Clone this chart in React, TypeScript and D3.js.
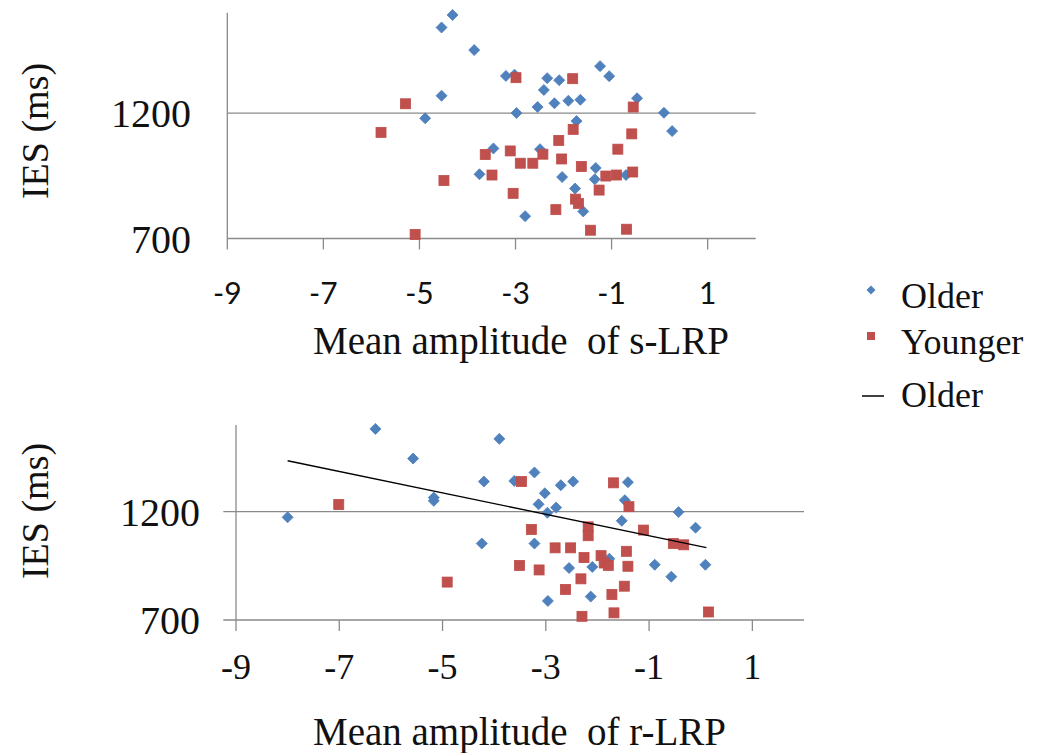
import React from "react";
import * as d3 from "d3";

// ---------- data ----------
const xTicks = [-9, -7, -5, -3, -1, 1];
const yTicks = [700, 1200];
const xDomain = [-9, 2];
const yDomain = [700, 1600];

const sOlder: [number, number][] = [
  [-4.31, 1591], [-4.54, 1541], [-3.86, 1451], [-3.2, 1348], [-3.02, 1353], [-2.34, 1339],
  [-2.09, 1331], [-2.41, 1292], [-1.24, 1387], [-1.05, 1347], [-4.54, 1269], [-2.54, 1224],
  [-2.19, 1239], [-1.9, 1249], [-1.65, 1253], [-0.47, 1259], [-2.98, 1200], [0.09, 1201],
  [-4.88, 1179], [-1.73, 1168], [0.26, 1128], [-3.46, 1059], [-2.49, 1056], [-3.75, 956],
  [-2.03, 945], [-1.33, 981], [-1.35, 936], [-0.7, 953], [-1.76, 899], [-1.59, 808], [-2.8, 789],
];
const sYounger: [number, number][] = [
  [-2.99, 1341], [-1.81, 1337], [-5.29, 1237], [-0.55, 1224], [-5.8, 1123], [-1.8, 1135],
  [-0.58, 1117], [-2.1, 1091], [-0.87, 1056], [-3.63, 1035], [-3.11, 1049], [-2.43, 1036],
  [-2.04, 1017], [-2.9, 1000], [-2.64, 1000], [-1.63, 987], [-3.49, 953], [-1.12, 949],
  [-0.9, 953], [-0.56, 965], [-4.49, 931], [-1.26, 893], [-3.05, 880], [-1.75, 857],
  [-1.69, 840], [-2.16, 815], [-1.44, 733], [-0.69, 737], [-5.09, 716],
];
const rOlder: [number, number][] = [
  [-6.3, 1582], [-3.9, 1536], [-5.57, 1445], [-3.22, 1381], [-4.2, 1339], [-3.61, 1342],
  [-2.71, 1322], [-2.47, 1339], [-1.41, 1336], [-3.02, 1285], [-5.17, 1265], [-5.17, 1250],
  [-3.14, 1234], [-2.8, 1219], [-1.47, 1253], [-2.97, 1195], [-0.43, 1198], [-8.0, 1174],
  [-1.53, 1158], [-0.1, 1126], [-4.24, 1053], [-3.22, 1053], [-1.77, 983], [-2.55, 940],
  [-2.1, 945], [-0.89, 955], [0.09, 955], [-0.57, 900], [-2.13, 808], [-2.96, 788],
];
const rYounger: [number, number][] = [
  [-3.47, 1339], [-1.69, 1333], [-7.01, 1233], [-1.39, 1223], [-3.28, 1118], [-2.18, 1130],
  [-2.18, 1089], [-1.11, 1115], [-0.53, 1053], [-0.33, 1047], [-2.82, 1033], [-2.52, 1033],
  [-1.44, 1017], [-2.26, 988], [-1.93, 997], [-1.87, 963], [-1.79, 952], [-3.51, 952],
  [-3.13, 931], [-1.41, 948], [-4.91, 875], [-2.32, 890], [-2.62, 841], [-1.48, 856],
  [-1.72, 818], [-1.68, 733], [-2.3, 717], [0.15, 737],
];
// linear trendline of the Older group, r-LRP panel
const rOlderTrendX = [-8.0, 0.11];
const rOlderTrendY = [1435, 1034];

const legendLabels = ["Older", "Younger", "Older"];
const yTitle = "IES (ms)";
const sTitle = "Mean amplitude  of s-LRP";
const rTitle = "Mean amplitude  of r-LRP";

// ---------- styles ----------
const BLUE = "#4F81BD";
const BLUE_EDGE = "#4A7EBB";
const RED = "#C0504D";
const RED_EDGE = "#BE4B48";
const AXIS = "#8a8a8a";
const SERIF = "'Liberation Serif', 'Times New Roman', serif";
const SANS = "Lato, 'Open Sans', sans-serif";

const diamond = (cx: number, cy: number, r: number) =>
  `M${cx},${cy - r}L${cx + r},${cy}L${cx},${cy + r}L${cx - r},${cy}Z`;

type PanelProps = {
  x0: number; x1: number; yTop: number; yBottom: number;
  older: [number, number][]; younger: [number, number][];
  yTickLen: number; yLabelRight: number; xTickFont: string; xTickSize: number;
  xTickBaseline: number; title: string; titleBaseline: number; titleX: number;
  yTitleCenter: number; trendX?: number[]; trendY?: number[];
};

function Panel(p: PanelProps) {
  const x = d3.scaleLinear().domain(xDomain).range([p.x0, p.x1]);
  const y = d3.scaleLinear().domain(yDomain).range([p.yBottom, p.yTop]);
  const line = d3.line<number>().x((_, i) => x(p.trendX![i])).y((d) => y(d));
  return (
    <g>
      <line x1={x(-9)} x2={x(-9)} y1={y(1600)} y2={y(700)} stroke={AXIS} strokeWidth={1.3} />
      {yTicks.map((t) => (
        <line key={t} x1={x(-9) - p.yTickLen} x2={x(2)} y1={y(t)} y2={y(t)} stroke={AXIS} strokeWidth={1.3} />
      ))}
      {xTicks.map((t) => (
        <line key={t} x1={x(t)} x2={x(t)} y1={y(700)} y2={y(700) + 11} stroke={AXIS} strokeWidth={1.3} />
      ))}
      {yTicks.map((t) => (
        <text key={t} x={p.yLabelRight} y={y(t)} dy="0.35em" textAnchor="end"
          fontFamily={SERIF} fontSize={40} fill="#111">{t}</text>
      ))}
      {xTicks.map((t) => (
        <text key={t} x={x(t)} y={p.xTickBaseline} textAnchor="middle"
          fontFamily={p.xTickFont} fontSize={p.xTickSize} fill="#111">{t}</text>
      ))}
      <text x={p.titleX} y={p.titleBaseline} fontFamily={SERIF} fontSize={39} fill="#111"
        style={{ whiteSpace: "pre" }}>{p.title}</text>
      <text transform={`translate(35,${p.yTitleCenter}) rotate(-90)`} textAnchor="middle"
        dy="0.35em" fontFamily={SERIF} fontSize={38} fill="#111">{yTitle}</text>
      {p.older.map((d, i) => (
        <path key={"o" + i} d={diamond(x(d[0]), y(d[1]), 5.5)} fill={BLUE} stroke={BLUE_EDGE} strokeWidth={0.8} />
      ))}
      {p.younger.map((d, i) => (
        <rect key={"y" + i} x={x(d[0]) - 5} y={y(d[1]) - 5} width={10} height={10}
          fill={RED} stroke={RED_EDGE} strokeWidth={0.8} />
      ))}
      {p.trendX && p.trendY && (
        <path d={line(p.trendY) || ""} fill="none" stroke="#000" strokeWidth={1.4} />
      )}
    </g>
  );
}

export default function App() {
  return (
    <svg width={1037} height={753} style={{ position: "absolute", left: 0, top: 0, background: "#fff" }}>
      <rect width={1037} height={753} fill="#fff" />
      <Panel x0={227.3} x1={755.7} yTop={12.7} yBottom={238.5} older={sOlder} younger={sYounger}
        yTickLen={0} yLabelRight={191} xTickFont={SANS} xTickSize={30} xTickBaseline={304}
        title={sTitle} titleBaseline={354} titleX={313} yTitleCenter={131} />
      <Panel x0={236} x1={804} yTop={425} yBottom={620} older={rOlder} younger={rYounger}
        yTickLen={12.7} yLabelRight={200} xTickFont={SERIF} xTickSize={36} xTickBaseline={679}
        title={rTitle} titleBaseline={745} titleX={313} yTitleCenter={511}
        trendX={rOlderTrendX} trendY={rOlderTrendY} />
      <g fontFamily={SERIF} fontSize={36} fill="#111">
        <path d={diamond(871, 290, 4.5)} fill={BLUE} />
        <rect x={867} y={332} width={8} height={8} fill={RED} />
        <line x1={862} x2={884} y1={396} y2={396} stroke="#000" strokeWidth={1.5} />
        {legendLabels.map((l, i) => (
          <text key={i} x={901} y={[308, 354, 407][i]}>{l}</text>
        ))}
      </g>
    </svg>
  );
}
